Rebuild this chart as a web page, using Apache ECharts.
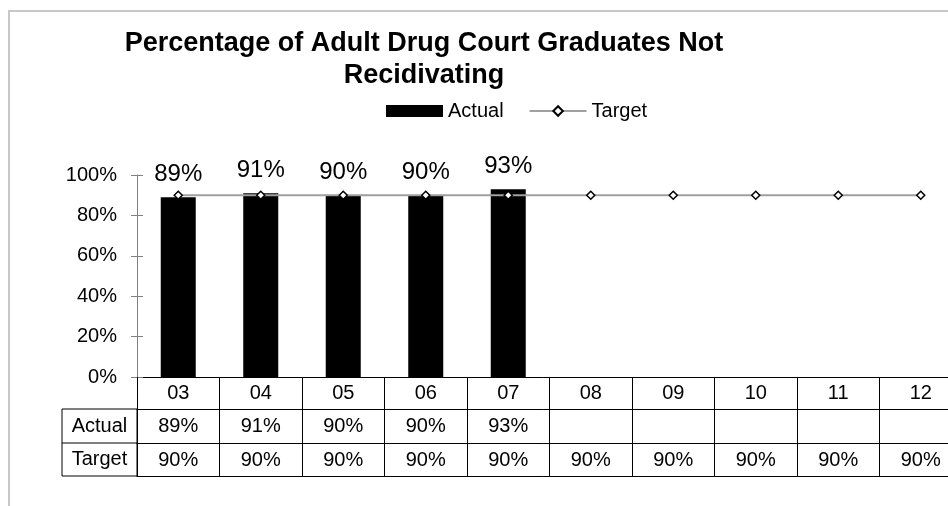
<!DOCTYPE html>
<html>
<head>
<meta charset="utf-8">
<script src="https://cdn.jsdelivr.net/npm/echarts@6/dist/echarts.min.js"></script>
<style>
html,body{margin:0;padding:0;background:#fff;}
#chart{width:948px;height:506px;}
</style>
</head>
<body>
<div id="chart"></div>
<script>
var titleText = 'Percentage of Adult Drug Court Graduates Not\nRecidivating';
var categories = ['03','04','05','06','07','08','09','10','11','12'];
var actualName = 'Actual';
var targetName = 'Target';
var actual = [89, 91, 90, 90, 93, null, null, null, null, null];
var target = [90, 90, 90, 90, 90, 90, 90, 90, 90, 90];
var yTicks = [0, 20, 40, 60, 80, 100];

var FONT = '"Liberation Sans", Arial, sans-serif';
var chart = echarts.init(document.getElementById('chart'), null, {renderer: 'canvas'});

function pct(v) { return (v === null || v === undefined) ? '' : v + '%'; }

var yCommon = {
  type: 'value', min: yTicks[0], max: yTicks[yTicks.length - 1], interval: yTicks[1] - yTicks[0],
  position: 'left', splitLine: {show: false}
};

function tableAxis(offset, tickLen, labelFmt) {
  return {
    type: 'category', data: categories, position: 'bottom', offset: offset,
    axisLine: {show: true, onZero: false, lineStyle: {color: '#000', width: 1}},
    axisTick: {show: tickLen > 0, length: tickLen, interval: 0, lineStyle: {color: '#000'}},
    axisLabel: labelFmt ? {show: true, interval: 0, margin: 7, fontSize: 20, color: '#000', fontFamily: FONT,
      formatter: labelFmt} : {show: false}
  };
}

var option = {
  animation: false,
  backgroundColor: '#fff',
  textStyle: {fontFamily: FONT},
  title: {
    text: titleText,
    left: 424, top: 28, padding: 0,
    textAlign: 'center',
    textStyle: {fontFamily: FONT, fontSize: 27, fontWeight: 'bold', color: '#000', lineHeight: 32}
  },
  legend: {
    left: 386, top: 101, padding: 0, itemGap: 25,
    itemWidth: 57, itemHeight: 12,
    textStyle: {fontFamily: FONT, fontSize: 20, color: '#000'},
    data: [{name: actualName, icon: 'rect'}, {name: targetName}]
  },
  grid: {left: 137, top: 175, width: 825, height: 202, containLabel: false, outerBoundsMode: 'none'},
  xAxis: [
    {
      type: 'category', data: categories, position: 'bottom', offset: 0,
      axisLine: {show: true, onZero: false, lineStyle: {color: '#000', width: 1}},
      axisTick: {show: true, length: 32, interval: 0, lineStyle: {color: '#000'}},
      axisLabel: {show: true, interval: 0, margin: 6, fontSize: 20, color: '#000', fontFamily: FONT}
    },
    tableAxis(32, 34, function (v, i) { return pct(actual[i]); }),
    tableAxis(66, 33, function (v, i) { return pct(target[i]); }),
    tableAxis(99, 0, null)
  ],
  yAxis: [
    Object.assign({}, yCommon, {
      axisLine: {show: true, lineStyle: {color: '#808080', width: 1}},
      axisTick: {show: true, length: 6, lineStyle: {color: '#808080'}},
      axisLabel: {show: true, margin: 20, fontSize: 20, color: '#000', fontFamily: FONT, formatter: '{value}%'}
    }),
    Object.assign({}, yCommon, {
      axisLine: {show: false},
      axisTick: {show: true, inside: true, length: 6, lineStyle: {color: '#808080'}},
      axisLabel: {show: false}
    })
  ],
  graphic: [
    {type: 'rect', silent: true, shape: {x: 9, y: 11, width: 1200, height: 700},
      style: {fill: null, stroke: '#c8c8c8', lineWidth: 2}},
    {type: 'rect', silent: true, shape: {x: 62, y: 409, width: 75, height: 67},
      style: {fill: null, stroke: '#000', lineWidth: 1}},
    {type: 'line', silent: true, shape: {x1: 62, y1: 443, x2: 137, y2: 443},
      style: {stroke: '#000', lineWidth: 1}},
    {type: 'text', silent: true, x: 99.5, y: 426,
      style: {text: actualName, fontSize: 20, fontFamily: FONT, fill: '#000', align: 'center', verticalAlign: 'middle'}},
    {type: 'text', silent: true, x: 99.5, y: 459.5,
      style: {text: targetName, fontSize: 20, fontFamily: FONT, fill: '#000', align: 'center', verticalAlign: 'middle'}}
  ],
  series: [
    {
      name: actualName, type: 'bar', xAxisIndex: 0, yAxisIndex: 0,
      data: actual, barWidth: 35,
      itemStyle: {color: '#000'},
      label: {show: true, position: 'top', distance: 11, fontSize: 24, color: '#000', fontFamily: FONT,
        formatter: function (p) { return pct(p.value); }},
      z: 2
    },
    {
      name: targetName, type: 'line', xAxisIndex: 0, yAxisIndex: 0,
      data: target, showAllSymbol: true,
      symbol: 'diamond', symbolSize: 8,
      lineStyle: {color: '#a0a0a0', width: 2},
      itemStyle: {color: '#fff', borderColor: '#000', borderWidth: 1.5},
      z: 3
    }
  ]
};
chart.setOption(option);
</script>
</body>
</html>
